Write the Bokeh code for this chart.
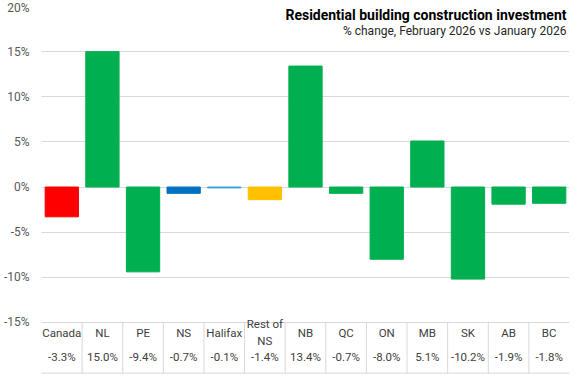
from bokeh.plotting import figure
from bokeh.models import (ColumnDataSource, FactorRange, Range1d, FixedTicker,
                          PrintfTickFormatter, Label)
from bokeh.embed import file_html
from bokeh.resources import INLINE

# ---- data ----
categories = ["Canada", "NL", "PE", "NS", "Halifax", "Rest of NS", "NB",
              "QC", "ON", "MB", "SK", "AB", "BC"]
table_labels = ["Canada", "NL", "PE", "NS", "Halifax", "Rest of\nNS", "NB",
                "QC", "ON", "MB", "SK", "AB", "BC"]
values = [-3.3, 15.0, -9.4, -0.7, -0.1, -1.4, 13.4, -0.7, -8.0, 5.1, -10.2, -1.9, -1.8]
y_ticks = [-15, -10, -5, 0, 5, 10, 15, 20]
title_text = "Residential building construction investment"
subtitle_text = "% change, February 2026 vs January 2026"

# ---- styles ----
GREEN = "#00B050"
color_map = {"Canada": "#FF0000", "NS": "#0070C0", "Halifax": "#3AA3DA",
             "Rest of NS": "#FFC000"}
bar_colors = [color_map.get(c, GREEN) for c in categories]
GRID = "#D9D9D9"
TEXT = "#404040"
FONT = "Roboto"

y_min_axis = min(y_ticks)
y_max_axis = max(y_ticks)
table_h = 5.62  # table depth, in value units
y_bottom = y_min_axis - table_h
y_range_start = y_bottom - 0.15

source = ColumnDataSource(dict(
    cat=categories, val=values, color=bar_colors,
    lab=table_labels, vlab=[f"{v:.1f}%" for v in values],
    lab_y=[y_min_axis - table_h * 0.2] * len(categories),
    vlab_y=[y_min_axis - table_h * 0.69] * len(categories),
))

p = figure(width=569, height=375, output_backend="svg", toolbar_location=None,
           x_range=FactorRange(*categories, range_padding=0),
           y_range=Range1d(y_range_start, y_max_axis),
           min_border_left=32, min_border_right=0, min_border_top=6,
           min_border_bottom=1)
p.outline_line_color = None
p.background_fill_color = "white"
p.border_fill_color = "white"

p.vbar(x="cat", top="val", bottom=0, width=0.82, color="color", source=source)

# axes
p.xaxis.visible = False
p.xgrid.visible = False
p.yaxis.ticker = FixedTicker(ticks=y_ticks)
p.yaxis.formatter = PrintfTickFormatter(format="%d%%")
p.yaxis.axis_line_color = None
p.yaxis.major_tick_line_color = None
p.yaxis.minor_tick_line_color = None
p.yaxis.major_label_text_font = FONT
p.yaxis.major_label_text_font_size = "12px"
p.yaxis.major_label_text_color = "#595959"
p.yaxis.major_label_standoff = 6
p.ygrid.grid_line_color = GRID
p.ygrid.grid_line_width = 1

# table grid
n = len(categories)
p.segment(x0=list(range(1, n)), x1=list(range(1, n)),
          y0=[y_min_axis] * (n - 1), y1=[y_bottom] * (n - 1),
          line_color=GRID, line_width=1)
p.segment(x0=[0], x1=[n], y0=[y_bottom], y1=[y_bottom],
          line_color=GRID, line_width=1)

# table text
p.text(x="cat", y="lab_y", text="lab", source=source, text_align="center",
       text_baseline="middle", text_font_size="11.5px", text_color=TEXT,
       text_font={"value": FONT}, text_line_height=1.25)
p.text(x="cat", y="vlab_y", text="vlab", source=source, text_align="center",
       text_baseline="middle", text_font_size="11.5px", text_color=TEXT,
       text_font={"value": FONT})

# titles
p.add_layout(Label(x=n, y=y_max_axis - 0.95, x_offset=-3, text=title_text,
                   text_align="right", text_baseline="middle",
                   text_font=FONT, text_font_style="bold",
                   text_font_size="14px", text_color="#000000"))
p.add_layout(Label(x=n, y=y_max_axis - 2.75, x_offset=-3, text=subtitle_text,
                   text_align="right", text_baseline="middle",
                   text_font=FONT, text_font_size="12px",
                   text_color="#262626"))

open("out.html", "w").write(file_html(p, INLINE))
